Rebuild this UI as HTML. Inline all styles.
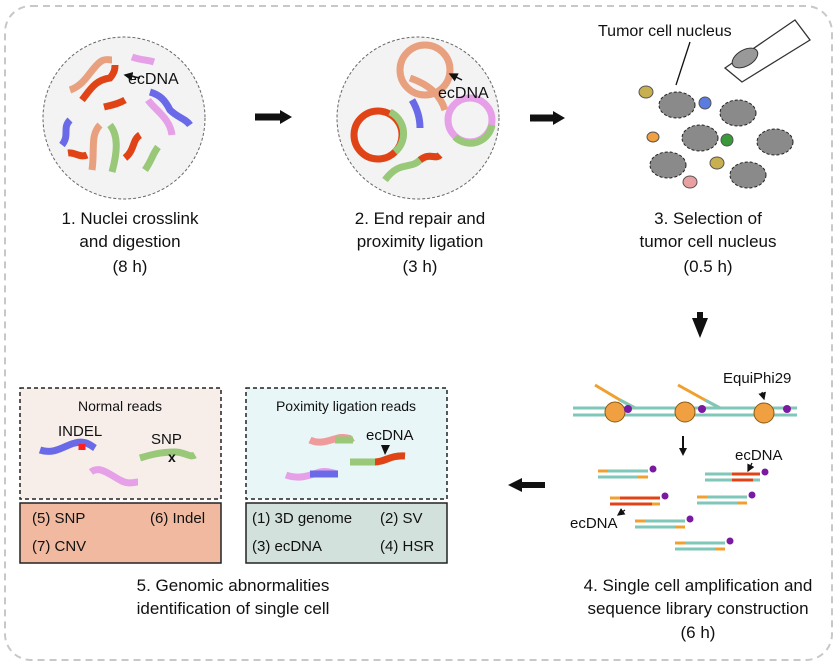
<!DOCTYPE html>
<html><head><meta charset="utf-8"><style>
html,body{margin:0;padding:0;background:#fff}
svg{display:block}
text{font-family:"Liberation Sans",Arial,sans-serif;fill:#111}
</style></head><body>
<svg width="838" height="666" viewBox="0 0 838 666" xmlns="http://www.w3.org/2000/svg">
<defs>
<marker id="ah" markerWidth="6" markerHeight="6" refX="5" refY="3" orient="auto"><path d="M0,0 L6,3 L0,6z" fill="#111"/></marker>
</defs>
<rect x="5" y="6" width="827" height="654" rx="26" fill="none" stroke="#c8c8c8" stroke-width="2" stroke-dasharray="7,5"/>

<!-- Panel 1 -->
<circle cx="124" cy="118" r="81" fill="#f3f3f3" stroke="#666" stroke-dasharray="3,2"/>
<g fill="none" stroke-width="7" stroke-linecap="butt">
<path d="M70,90 C85,85 90,70 100,62 C105,58 110,60 112,60" stroke="#e8a07e"/>
<path d="M82,100 C90,90 95,80 110,78 C115,72 115,68 115,65" stroke="#e04416"/>
<path d="M132,57 C140,60 148,60 154,62" stroke="#e6a0e8"/>
<path d="M150,92 C160,95 165,100 170,110 C178,118 185,118 190,125" stroke="#6a6ae8"/>
<path d="M148,100 C155,110 170,118 172,135" stroke="#e6a0e8"/>
<path d="M104,107 C112,105 118,104 125,100" stroke="#e04416"/>
<path d="M70,120 C62,128 70,135 62,145" stroke="#6a6ae8"/>
<path d="M68,153 C75,152 80,158 87,155" stroke="#e04416"/>
<path d="M100,125 C90,135 95,150 92,170" stroke="#e8a07e"/>
<path d="M110,125 C118,135 118,150 112,172" stroke="#98c878"/>
<path d="M140,135 C132,140 135,150 125,158" stroke="#e04416"/>
<path d="M158,147 C152,155 152,160 145,170" stroke="#98c878"/>
</g>
<path d="M140,78 L125,75" stroke="#111" stroke-width="1.5" marker-end="url(#ah)"/>
<text x="128" y="84" font-size="16">ecDNA</text>

<path d="M255,117 H282" stroke="#111" stroke-width="7"/><path d="M280,110 L292,117 L280,124z" fill="#111"/>

<!-- Panel 2 -->
<circle cx="418" cy="118" r="81" fill="#f3f3f3" stroke="#666" stroke-dasharray="3,2"/>
<g fill="none" stroke-width="7">
<circle cx="425" cy="70" r="25" stroke="#e8a07e"/>
<path d="M410,78 C430,85 440,95 445,110" stroke="#e8a07e"/>
<path d="M412,100 C418,110 420,120 420,128" stroke="#6a6ae8"/>
<circle cx="378" cy="135" r="24" stroke="#e04416"/>
<path d="M390,112 A24,24 0 0 1 395,152" stroke="#98c878"/>
<circle cx="470" cy="120" r="22" stroke="#e6a0e8"/>
<path d="M455,137 A22,22 0 0 0 492,125" stroke="#98c878"/>
<path d="M385,180 C400,160 410,170 420,160 C430,152 435,160 440,155" stroke="#98c878"/>
<path d="M420,160 C430,152 435,160 440,155" stroke="#e04416"/>
</g>
<text x="438" y="98" font-size="16">ecDNA</text>
<path d="M462,80 L450,74" stroke="#111" stroke-width="1.5" marker-end="url(#ah)"/>

<path d="M530,118 H555" stroke="#111" stroke-width="7"/><path d="M553,111 L565,118 L553,125z" fill="#111"/>

<!-- Panel 3 -->
<text x="598" y="36" font-size="16">Tumor cell nucleus</text>
<path d="M690,42 L676,85" stroke="#111" stroke-width="1.3"/>
<path d="M725,68 L795,20 L810,40 L742,82z" fill="#fff" stroke="#333" stroke-width="1.3"/>
<ellipse cx="745" cy="58" rx="14" ry="8" transform="rotate(-30 745 58)" fill="#999" stroke="#333"/>
<g stroke="#222" stroke-dasharray="3,2" fill="#8a8a8a">
<ellipse cx="677" cy="105" rx="18" ry="13"/>
<ellipse cx="738" cy="113" rx="18" ry="13"/>
<ellipse cx="700" cy="138" rx="18" ry="13"/>
<ellipse cx="775" cy="142" rx="18" ry="13"/>
<ellipse cx="668" cy="165" rx="18" ry="13"/>
<ellipse cx="748" cy="175" rx="18" ry="13"/>
</g>
<ellipse cx="646" cy="92" rx="7" ry="6" fill="#c8b050" stroke="#555"/>
<ellipse cx="705" cy="103" rx="6" ry="6" fill="#5a7ce0" stroke="#555"/>
<ellipse cx="653" cy="137" rx="6" ry="5" fill="#f0a040" stroke="#555"/>
<ellipse cx="727" cy="140" rx="6" ry="6" fill="#3a9a3a" stroke="#555"/>
<ellipse cx="717" cy="163" rx="7" ry="6" fill="#c8b050" stroke="#555"/>
<ellipse cx="690" cy="182" rx="7" ry="6" fill="#e8a0a0" stroke="#555"/>

<g font-size="17" text-anchor="middle">
<text x="130" y="224">1. Nuclei crosslink</text><text x="130" y="247">and digestion</text><text x="130" y="272">(8 h)</text>
<text x="420" y="224">2. End repair and</text><text x="420" y="247">proximity ligation</text><text x="420" y="272">(3 h)</text>
<text x="708" y="224">3. Selection of</text><text x="708" y="247">tumor cell nucleus</text><text x="708" y="272">(0.5 h)</text>
<text x="233" y="591">5. Genomic abnormalities</text><text x="233" y="614">identification of single cell</text>
<text x="698" y="591">4. Single cell amplification and</text><text x="698" y="614">sequence library construction</text><text x="698" y="638">(6 h)</text>
</g>

<!-- Panel 4 -->
<path d="M697,312 L703,312 L703,318 L708,318 L700,338 L692,318 L697,318z" fill="#111"/>
<g stroke="#7fc7b8" stroke-width="3"><path d="M573,408 H797"/><path d="M573,415 H797"/></g>
<path d="M573,411.5 H797" stroke="#fff" stroke-width="2" stroke-dasharray="3,3"/>
<path d="M595,385 L620,400 L635,408" stroke="#f0a030" stroke-width="3" fill="none"/>
<path d="M620,400 L635,408" stroke="#7fc7b8" stroke-width="3"/>
<path d="M678,385 L705,400 L720,408" stroke="#f0a030" stroke-width="3" fill="none"/>
<path d="M705,400 L720,408" stroke="#7fc7b8" stroke-width="3"/>
<g fill="#f0a040" stroke="#8a5a10"><circle cx="615" cy="412" r="10"/><circle cx="685" cy="412" r="10"/><circle cx="764" cy="413" r="10"/></g>
<g fill="#7a1aa0"><circle cx="628" cy="409" r="4"/><circle cx="702" cy="409" r="4"/><circle cx="787" cy="409" r="4"/></g>
<text x="723" y="383" font-size="15">EquiPhi29</text>
<path d="M762,392 L764,399" stroke="#111" stroke-width="1.3" marker-end="url(#ah)"/>
<path d="M683,436 V450" stroke="#111" stroke-width="2"/><path d="M679,448 L683,456 L687,448z" fill="#111"/>
<g>
<g transform="translate(598,471)"><path d="M0,0 H50 M0,6 H50" stroke="#7fc7b8" stroke-width="3"/><path d="M0,0 H10 M40,6 H50" stroke="#f0a030" stroke-width="3"/><circle cx="55" cy="-2" r="3.5" fill="#7a1aa0"/></g>
<g transform="translate(705,474)"><path d="M0,0 H55 M0,6 H55" stroke="#7fc7b8" stroke-width="3"/><path d="M27,0 H55 M27,6 H48" stroke="#e04416" stroke-width="3"/><circle cx="60" cy="-2" r="3.5" fill="#7a1aa0"/></g>
<g transform="translate(610,498)"><path d="M0,0 H50 M0,6 H50" stroke="#e04416" stroke-width="3"/><path d="M0,0 H10 M42,6 H50" stroke="#f0a030" stroke-width="3"/><circle cx="55" cy="-2" r="3.5" fill="#7a1aa0"/></g>
<g transform="translate(697,497)"><path d="M0,0 H50 M0,6 H50" stroke="#7fc7b8" stroke-width="3"/><path d="M0,0 H10 M40,6 H50" stroke="#f0a030" stroke-width="3"/><circle cx="55" cy="-2" r="3.5" fill="#7a1aa0"/></g>
<g transform="translate(635,521)"><path d="M0,0 H50 M0,6 H50" stroke="#7fc7b8" stroke-width="3"/><path d="M0,0 H10 M40,6 H50" stroke="#f0a030" stroke-width="3"/><circle cx="55" cy="-2" r="3.5" fill="#7a1aa0"/></g>
<g transform="translate(675,543)"><path d="M0,0 H50 M0,6 H50" stroke="#7fc7b8" stroke-width="3"/><path d="M0,0 H10 M40,6 H50" stroke="#f0a030" stroke-width="3"/><circle cx="55" cy="-2" r="3.5" fill="#7a1aa0"/></g>
</g>
<text x="735" y="460" font-size="15">ecDNA</text>
<path d="M752,463 L748,471" stroke="#111" stroke-width="1.3" marker-end="url(#ah)"/>
<text x="570" y="528" font-size="15">ecDNA</text>
<path d="M625,510 L618,515" stroke="#111" stroke-width="1.3" marker-end="url(#ah)"/>

<path d="M545,485 H520" stroke="#111" stroke-width="6"/><path d="M522,478 L508,485 L522,492z" fill="#111"/>

<!-- Panel 5 -->
<rect x="20" y="388" width="201" height="111" fill="#f7eeea" stroke="#222" stroke-dasharray="4,3" stroke-width="1.5"/>
<rect x="20" y="503" width="201" height="60" fill="#f0b9a0" stroke="#222" stroke-width="1.5"/>
<rect x="246" y="388" width="201" height="111" fill="#e9f6f7" stroke="#222" stroke-dasharray="4,3" stroke-width="1.5"/>
<rect x="246" y="503" width="201" height="60" fill="#d3e1dd" stroke="#222" stroke-width="1.5"/>
<g font-size="14" text-anchor="middle"><text x="120" y="411">Normal reads</text><text x="346" y="411">Poximity ligation reads</text></g>
<g fill="none" stroke-width="7">
<path d="M40,450 C55,455 65,445 75,443 C85,440 90,445 95,448" stroke="#6a6ae8"/>
<path d="M82,444 V450" stroke="#ff2020"/>
<path d="M91,472 C100,465 110,475 120,480 C128,485 135,482 138,482" stroke="#e6a0e8"/>
<path d="M140,458 C150,455 160,452 175,452 C185,452 190,458 195,455" stroke="#98c878"/>
<path d="M310,440 C320,445 330,440 338,438 C345,436 350,440 353,438" stroke="#f09090" opacity="0.9"/>
<path d="M335,440 H353" stroke="#98c878"/>
<path d="M286,475 C300,480 310,475 320,472 C328,470 335,474 338,474" stroke="#e6a0e8"/>
<path d="M310,474 H338" stroke="#6a6ae8"/>
<path d="M350,462 H375 C385,462 390,455 405,456" stroke="#98c878"/>
<path d="M375,462 C385,462 390,455 405,456" stroke="#e04416"/>
</g>
<text x="168" y="462" font-size="14" font-weight="bold">x</text>
<text x="58" y="436" font-size="15">INDEL</text>
<text x="151" y="444" font-size="15">SNP</text>
<text x="366" y="440" font-size="15">ecDNA</text>
<path d="M381,445 L390,445 L385,455z" fill="#111"/>
<g font-size="15">
<text x="32" y="523">(5) SNP</text><text x="150" y="523">(6) Indel</text><text x="32" y="551">(7) CNV</text>
<text x="252" y="523">(1) 3D genome</text><text x="380" y="523">(2) SV</text>
<text x="252" y="551">(3) ecDNA</text><text x="380" y="551">(4) HSR</text>
</g>
</svg>
</body></html>
